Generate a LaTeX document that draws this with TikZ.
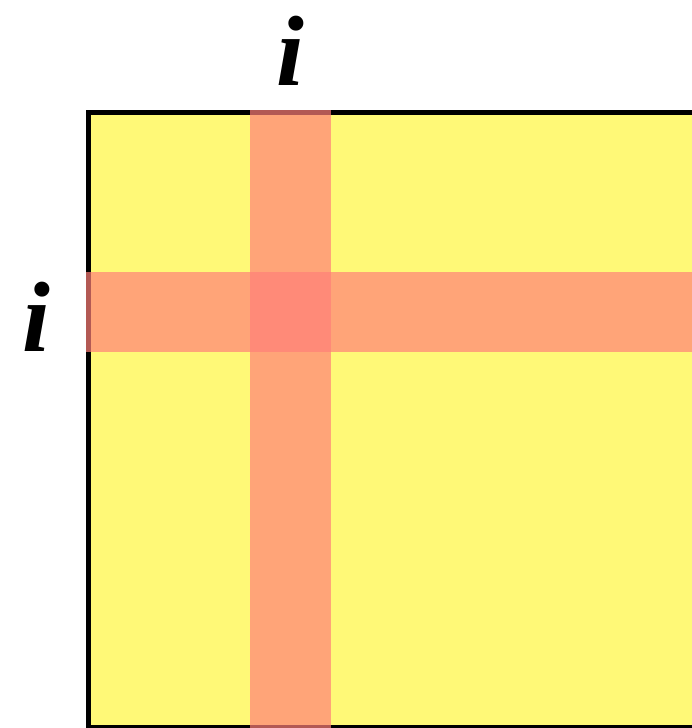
\documentclass[tikz,border=0pt]{standalone}
\usepackage{fontspec}
\setmainfont{Liberation Serif}
\definecolor{fillyellow}{RGB}{255,249,119}
\definecolor{bandred}{RGB}{255,128,121}
\tikzset{
  band/.style={fill=bandred, fill opacity=0.7, draw=none},
  lbl/.style={font=\fontsize{100}{100}\selectfont\bfseries\itshape, inner sep=0pt, anchor=base}
}
\begin{document}
\begin{tikzpicture}[x=1pt,y=-1pt]
\useasboundingbox (0,0) rectangle (692,728);
\clip (0,0) rectangle (692,728);
\filldraw[fill=fillyellow, draw=black, line width=5pt] (88,112) rectangle (800,727);
\fill[band] (250,109.5) rectangle (331,740);
\fill[band] (85.5,272) rectangle (800,352);
\node[lbl] (top) at (290,85) {i};
\node[lbl] (left) at (36,351) {i};
\end{tikzpicture}
\end{document}
